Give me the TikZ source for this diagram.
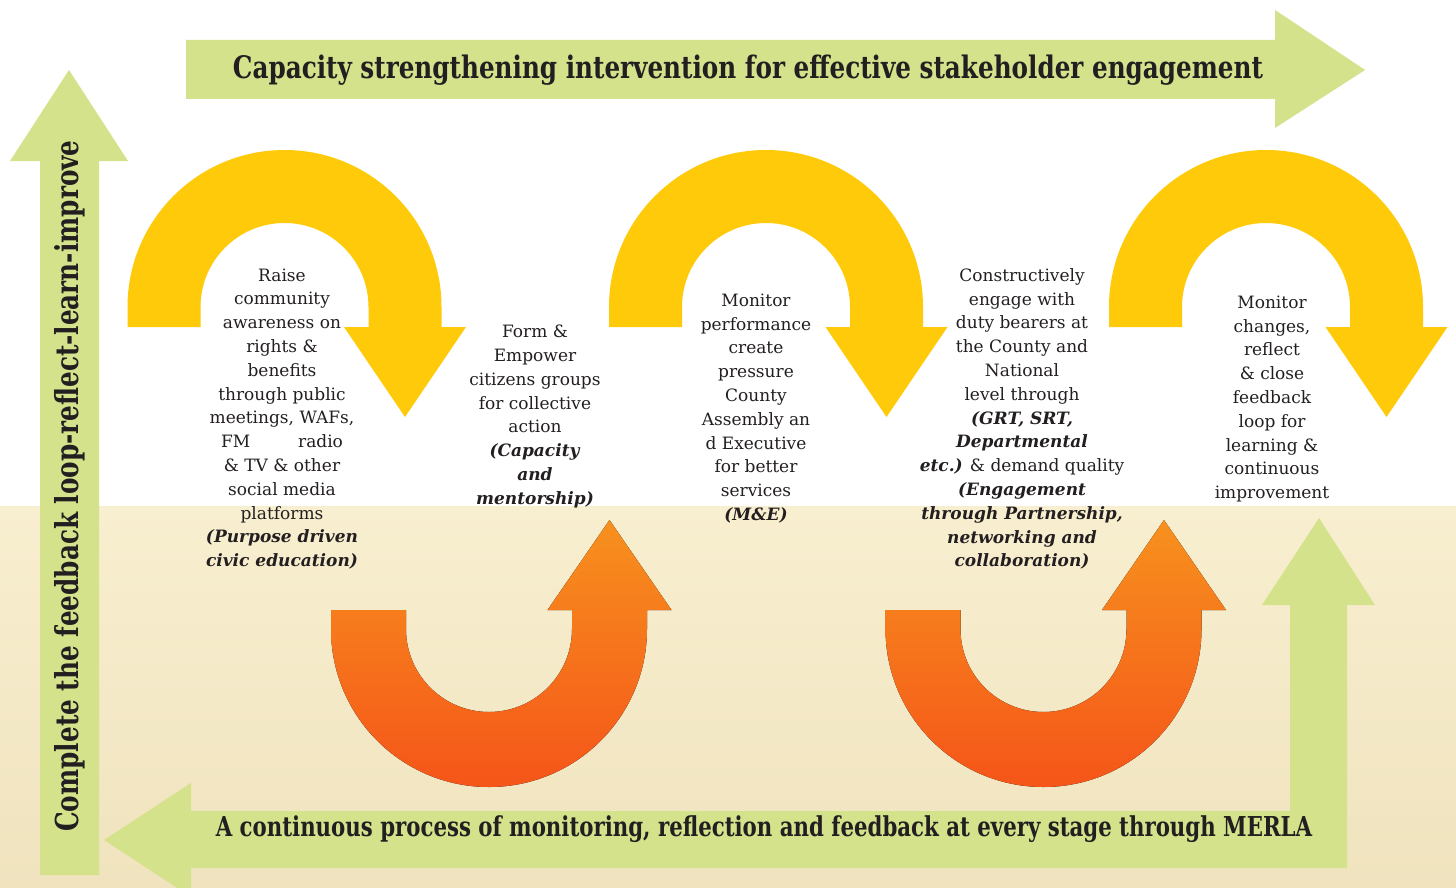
\documentclass[tikz,border=0pt]{standalone}
\usepackage{fontspec}
\setmainfont{DejaVu Serif}
\usetikzlibrary{positioning}

\definecolor{leafgreen}{RGB}{211,226,139}
\definecolor{sunyellow}{RGB}{254,202,10}
\definecolor{orangetop}{RGB}{247,145,30}
\definecolor{orangebot}{RGB}{245,85,25}
\definecolor{sandtop}{RGB}{248,239,208}
\definecolor{sandbot}{RGB}{240,227,190}
\definecolor{ink}{RGB}{35,31,32}

\newcommand{\tool}[1]{\textbf{\textit{#1}}}

\begin{document}
\begin{tikzpicture}[
    x=0.5pt, y=-0.5pt,
    greenarrow/.style={fill=leafgreen},
    yellowturn/.style={fill=sunyellow},
    orangeturn/.style={top color=orangetop, bottom color=orangebot},
    stage/.style={align=center, text=ink, inner sep=0pt,
                  font=\fontsize{8.5}{11.9}\selectfont},
    banner/.style={text=ink, inner sep=0pt, font=\bfseries}]
    \useasboundingbox (0,0) rectangle (1456,888);
    \fill[white] (0,0) rectangle (1456,506);
    \fill[top color=sandtop, bottom color=sandbot] (0,506) rectangle (1456,888);

    % green frame arrows
    \fill[greenarrow] (186,40) -- (1275,40) -- (1275,10) -- (1365,70) -- (1275,128) -- (1275,99) -- (186,99) -- cycle;
    \fill[greenarrow] (40,875) -- (40,161) -- (10,161) -- (69,70) -- (128,161) -- (99,161) -- (99,875) -- cycle;
    \fill[greenarrow] (104,840) -- (191,783) -- (191,811) -- (1290,811) -- (1290,605) -- (1262,605) -- (1319,518)
      -- (1375,605) -- (1347,605) -- (1347,868) -- (191,868) -- (191,897) -- cycle;

    % yellow turns (down)
    \fill[yellowturn] (127.5,327) -- (127.5,307) arc[start angle=180, end angle=360, radius=157] -- (441.5,327)
      -- (466,327) -- (405,417) -- (344,327) -- (368.5,327) -- (368.5,307) arc[start angle=360, end angle=180, radius=84]
      -- (200.5,327) -- cycle;
    \fill[yellowturn] (609,327) -- (609,307) arc[start angle=180, end angle=360, radius=157] -- (923,327)
      -- (947.5,327) -- (886.5,417) -- (825.5,327) -- (850,327) -- (850,307) arc[start angle=360, end angle=180, radius=84]
      -- (682,327) -- cycle;
    \fill[yellowturn] (1109,327) -- (1109,307) arc[start angle=180, end angle=360, radius=157] -- (1423,327)
      -- (1447.5,327) -- (1386.5,417) -- (1325.5,327) -- (1350,327) -- (1350,307) arc[start angle=360, end angle=180, radius=84]
      -- (1182,327) -- cycle;

    % orange turns (up)
    \fill[orangeturn] (331,610) -- (331,629) arc[start angle=180, end angle=0, radius=158] -- (647,610)
      -- (671.5,610) -- (609.5,520) -- (547.5,610) -- (572,610) -- (572,629) arc[start angle=0, end angle=180, radius=83]
      -- (406,610) -- cycle;
    \fill[orangeturn] (885.5,610) -- (885.5,629) arc[start angle=180, end angle=0, radius=158] -- (1201.5,610)
      -- (1226,610) -- (1164,520) -- (1102,610) -- (1126.5,610) -- (1126.5,629) arc[start angle=0, end angle=180, radius=83]
      -- (960.5,610) -- cycle;

    % banner texts
    \node[banner, font=\bfseries\fontsize{15.5}{18}\selectfont] (capacity) at (748,70)
      {\scalebox{0.796}[1]{Capacity strengthening intervention for effective stakeholder engagement}};
    \node[banner, font=\bfseries\fontsize{13.7}{16}\selectfont] (merla) at (764,829)
      {\scalebox{0.777}[1]{A continuous process of monitoring, reflection and feedback at every stage through MERLA}};
    \node[banner, font=\bfseries\fontsize{15.8}{18}\selectfont, rotate=90] (feedback) at (70,486)
      {\scalebox{0.782}[1]{Complete the feedback loop-reflect-learn-improve}};

    % stage texts
    \node[stage] (raise) at (282,419) {Raise\\community\\awareness on\\rights \&\\benefits\\through public\\meetings, WAFs,\\FM\hspace{2.5em} radio\\\& TV \& other\\social media\\platforms\\\tool{(Purpose driven}\\\tool{civic education)}};
    \node[stage] (form) at (535,416.5) {Form \&\\Empower\\citizens groups\\for collective\\action\\\tool{(Capacity}\\\tool{and}\\\tool{mentorship)}};
    \node[stage] (monitor) at (756,408.5) {Monitor\\performance\\create\\pressure\\County\\Assembly an\\d Executive\\for better\\services\\\tool{(M\&E)}};
    \node[stage] (engage) at (1022,419) {Constructively\\engage with\\duty bearers at\\the County and\\National\\level through\\\tool{(GRT, SRT,}\\\tool{Departmental}\\\tool{etc.)} \& demand quality\\\tool{(Engagement}\\\tool{through Partnership,}\\\tool{networking and}\\\tool{collaboration)}};
    \node[stage] (close) at (1272,399) {Monitor\\changes,\\reflect\\\& close\\feedback\\loop for\\learning \&\\continuous\\improvement};
\end{tikzpicture}
\end{document}
